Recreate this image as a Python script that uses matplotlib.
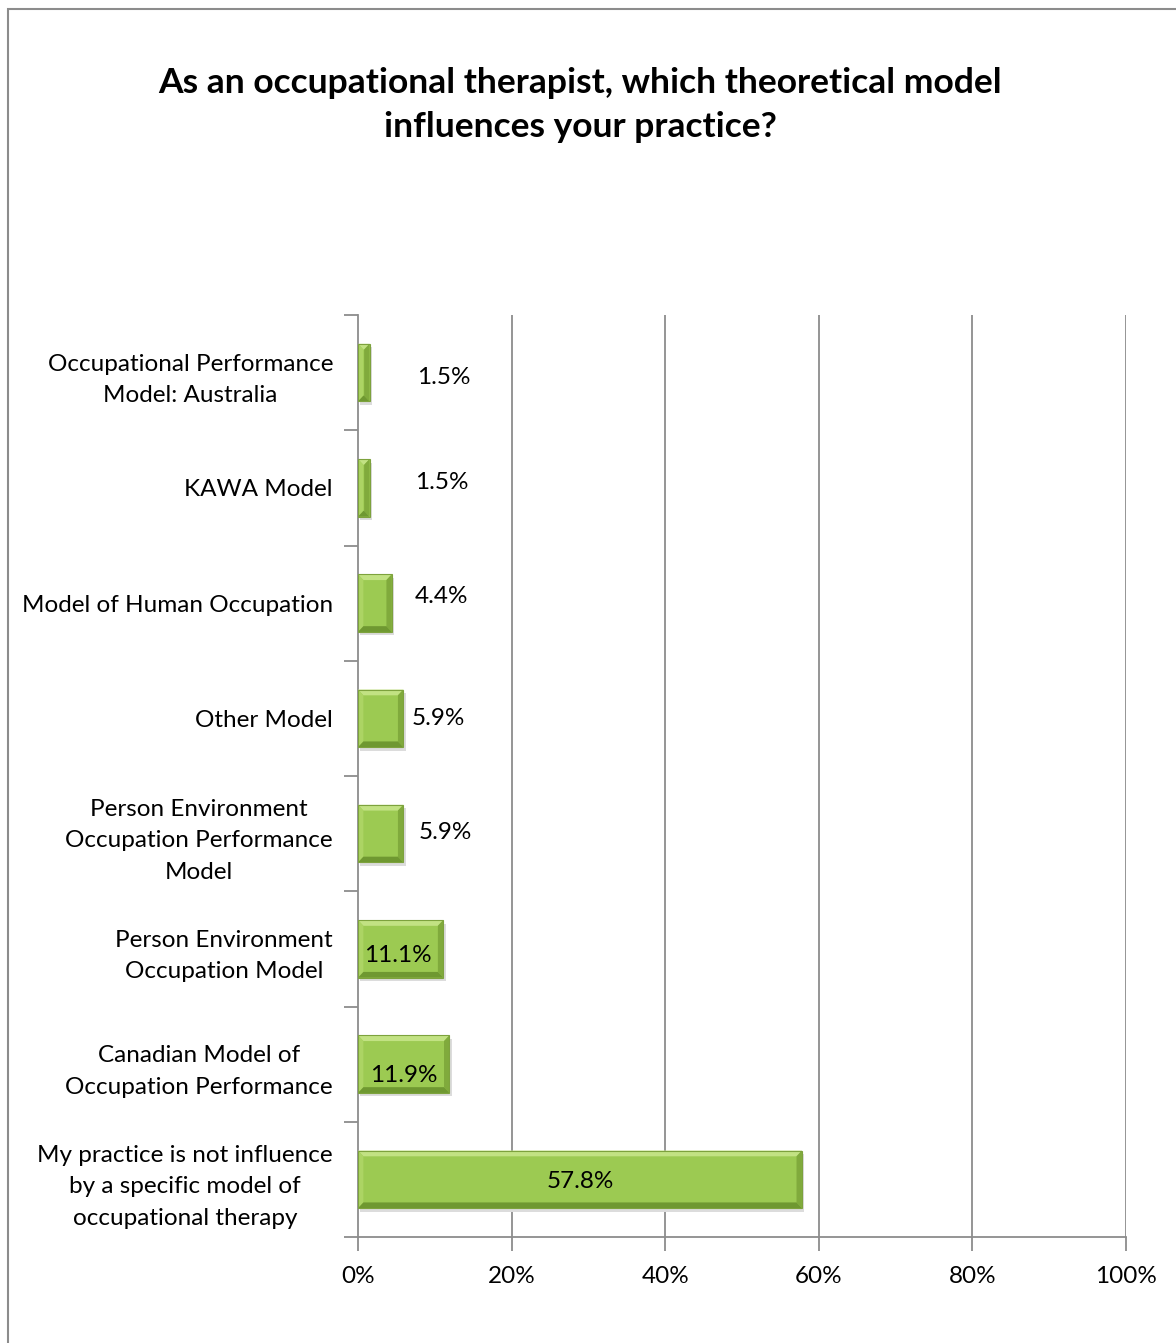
import matplotlib.pyplot as plt
from matplotlib.patches import Polygon, Rectangle

plt.rcParams['font.family'] = ['Lato', 'DejaVu Sans']

# Survey answers, top to bottom
categories = [
    "Occupational Performance\nModel: Australia",
    "KAWA Model",
    "Model of Human Occupation",
    "Other Model",
    "Person Environment\nOccupation Performance\nModel",
    "Person Environment\nOccupation Model",
    "Canadian Model of\nOccupation Performance",
    "My practice is not influence\nby a specific model of\noccupational therapy",
]
percent = [1.5, 1.5, 4.4, 5.9, 5.9, 11.1, 11.9, 57.8]
value_labels = ["1.5%", "1.5%", "4.4%", "5.9%", "5.9%", "11.1%", "11.9%", "57.8%"]
# where each value label sits: x in %, y shift in category units
label_x = [11.2, 10.9, 10.9, 10.4, 11.4, 5.2, 6.0, 28.9]
label_dy = [0.04, -0.05, -0.06, 0.0, -0.01, 0.06, 0.10, 0.02]
xticks = [0, 20, 40, 60, 80, 100]

fig = plt.figure(figsize=(11.76, 13.43), dpi=100)
fig.patches.append(Rectangle((8 / 1176, -0.1), 1.2, 1 - 9 / 1343 + 0.1,
                             transform=fig.transFigure, fill=False,
                             edgecolor='#8c8c8c', linewidth=1.5))

ax = fig.add_axes([358 / 1176, 1 - 1237 / 1343, 768 / 1176, 922 / 1343])
n = len(categories)
ypos = list(range(n))
bar_h = 0.5

ax.set_xlim(0, 100)
ax.set_ylim(n - 0.5, -0.5)

# grid lines
for t in xticks[1:]:
    ax.axvline(t, color='#8c8c8c', linewidth=1.3, zorder=0)

bx = 0.7   # bevel width in x (%)
by = 0.05  # bevel height in category units
for y, v in zip(ypos, percent):
    top = y - bar_h / 2
    bot = y + bar_h / 2
    # soft shadow
    ax.add_patch(Rectangle((0.3, top + 0.03), v, bar_h, facecolor='#dcdcdc',
                           edgecolor='none', zorder=1))
    ax.barh(y, v, height=bar_h, color='#9cca52', edgecolor='none', zorder=2)
    ex = min(bx, v / 2)
    # light upper bevel
    ax.add_patch(Polygon([(0, top), (v, top), (v - ex, top + by), (ex, top + by)],
                         closed=True, facecolor='#c2e283', edgecolor='none', zorder=3))
    # left bevel
    ax.add_patch(Polygon([(0, top), (ex, top + by), (ex, bot - by), (0, bot)],
                         closed=True, facecolor='#acd464', edgecolor='none', zorder=3))
    # right bevel
    ax.add_patch(Polygon([(v, top), (v, bot), (v - ex, bot - by), (v - ex, top + by)],
                         closed=True, facecolor='#80aa3c', edgecolor='none', zorder=3))
    # dark lower bevel
    ax.add_patch(Polygon([(0, bot), (v, bot), (v - ex, bot - by), (ex, bot - by)],
                         closed=True, facecolor='#6f9831', edgecolor='none', zorder=3))
    ax.add_patch(Rectangle((0, top), v, bar_h, fill=False, edgecolor='#7da23d',
                           linewidth=0.8, zorder=4))

for y, lx, dy, txt in zip(ypos, label_x, label_dy, value_labels):
    ax.text(lx, y + dy, txt, ha='center', va='center', fontsize=17.5,
            color='black', zorder=5)

# axes and ticks
for s in ['top', 'right']:
    ax.spines[s].set_visible(False)
for s in ['left', 'bottom']:
    ax.spines[s].set_color('#8c8c8c')
    ax.spines[s].set_linewidth(1.3)

ax.set_xticks(xticks)
ax.set_xticklabels([f"{t}%" for t in xticks], fontsize=17.5)
ax.tick_params(axis='x', length=10, width=1.3, color='#8c8c8c', pad=11)

ax.set_yticks([y - 0.5 for y in ypos] + [n - 0.5])
ax.set_yticklabels([])
ax.set_yticks(ypos, minor=True)
ax.set_yticklabels(categories, minor=True, fontsize=17.5, ha='right',
                   multialignment='center', linespacing=1.62)
ax.tick_params(axis='y', which='major', length=10, width=1.3, color='#8c8c8c')
ax.tick_params(axis='y', which='minor', length=0, pad=18)

fig.text(580 / 1176, 1 - 105 / 1343,
         "As an occupational therapist, which theoretical model\ninfluences your practice?",
         ha='center', va='center', fontsize=25.5, fontweight='bold', linespacing=1.45)

fig.savefig('out.png', dpi=100, facecolor='white')
